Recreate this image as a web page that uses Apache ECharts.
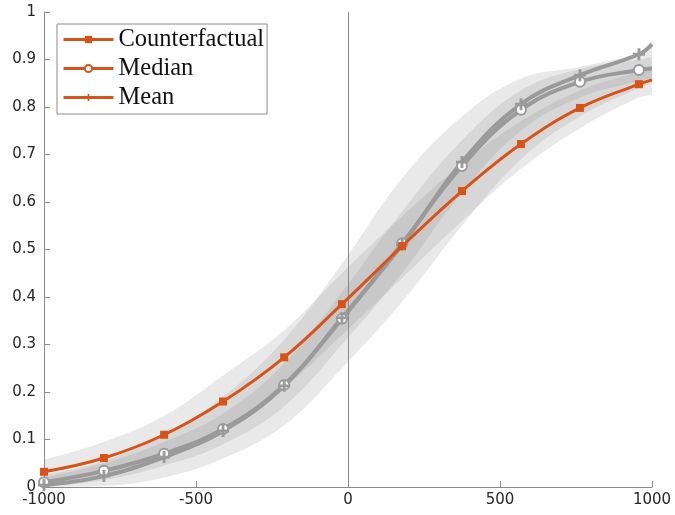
<!DOCTYPE html>
<html>
<head>
<meta charset="utf-8">
<script src="https://cdn.jsdelivr.net/npm/echarts@6/dist/echarts.min.js"></script>
<style>html,body{margin:0;padding:0;background:#fff}#c{width:675px;height:515px}</style>
</head>
<body>
<div id="c"></div>
<script>
// x positions of the sampled points (markers) plus the curve end
const xs = [-1000, -803, -605, -411, -210, -20, 178, 375, 569, 763, 957, 1000];
// series values
const counterfactual = [0.032, 0.061, 0.110, 0.180, 0.273, 0.385, 0.507, 0.623, 0.722, 0.798, 0.848, 0.857];
const median = [0.010, 0.034, 0.070, 0.122, 0.215, 0.354, 0.513, 0.676, 0.794, 0.853, 0.878, 0.881];
const mean = [0.004, 0.023, 0.063, 0.118, 0.213, 0.356, 0.510, 0.684, 0.806, 0.867, 0.911, 0.932];
// shaded bands (lower / upper)
const cfLo = [0.005, 0.025, 0.065, 0.125, 0.210, 0.320, 0.440, 0.560, 0.670, 0.755, 0.820, 0.825];
const cfHi = [0.058, 0.095, 0.150, 0.235, 0.330, 0.450, 0.570, 0.680, 0.770, 0.835, 0.875, 0.885];
const meanLo = [0.000, 0.002, 0.020, 0.060, 0.130, 0.250, 0.390, 0.550, 0.690, 0.780, 0.840, 0.850];
const meanHi = [0.025, 0.055, 0.110, 0.190, 0.310, 0.470, 0.650, 0.780, 0.860, 0.885, 0.915, 0.940];
const medLo = [0.000, 0.015, 0.045, 0.090, 0.170, 0.300, 0.450, 0.620, 0.750, 0.820, 0.855, 0.860];
const medHi = [0.020, 0.050, 0.095, 0.155, 0.260, 0.410, 0.580, 0.730, 0.835, 0.880, 0.900, 0.905];
// tick labels
const xTicks = [-1000, -500, 0, 500, 1000];
const yTicks = [0, 0.1, 0.2, 0.3, 0.4, 0.5, 0.6, 0.7, 0.8, 0.9, 1];

const ORANGE = '#D95319';
const GRAY = '#9a9a9a';
const plusPath = 'path://M-1.2,-5H1.2V-1.2H5V1.2H1.2V5H-1.2V1.2H-5V-1.2H-1.2Z';

function pts(arr) {
  return xs.map((x, i) => {
    const d = { value: [x, arr[i]] };
    if (i === xs.length - 1) d.symbol = 'none';
    return d;
  });
}
// band rows are [y, x] so the stacked dimension is the y value
function band(lo, hi, id) {
  return [
    { type: 'line', stack: id, stackStrategy: 'all', smooth: 0.4, symbol: 'none', silent: true,
      encode: { x: 1, y: 0 },
      lineStyle: { opacity: 0 }, data: xs.map((x, i) => [lo[i], x]), z: 1 },
    { type: 'line', stack: id, stackStrategy: 'all', smooth: 0.4, symbol: 'none', silent: true,
      encode: { x: 1, y: 0 },
      lineStyle: { opacity: 0 }, areaStyle: { color: 'rgba(140,140,140,0.19)', opacity: 1 },
      data: xs.map((x, i) => [hi[i] - lo[i], x]), z: 1 }
  ];
}

const chart = echarts.init(document.getElementById('c'), null, { renderer: 'canvas' });
chart.setOption({
  animation: false,
  backgroundColor: '#fff',
  grid: { left: 44, right: 23, top: 12, bottom: 28, containLabel: false },
  xAxis: {
    type: 'value', min: -1000, max: 1000, interval: 500,
    axisLine: { show: true, onZero: false, lineStyle: { color: '#8a8a8a', width: 1 } },
    axisTick: { show: true, inside: true, length: 6, lineStyle: { color: '#8a8a8a' } },
    splitLine: { show: false },
    axisLabel: { color: '#262626', fontSize: 15, fontFamily: 'DejaVu Sans', margin: 6,
      formatter: v => xTicks.includes(v) ? String(v) : '' }
  },
  yAxis: {
    type: 'value', min: 0, max: 1, interval: 0.1,
    axisLine: { show: true, onZero: false, lineStyle: { color: '#8a8a8a', width: 1 } },
    axisTick: { show: true, inside: true, length: 6, lineStyle: { color: '#8a8a8a' } },
    splitLine: { show: false },
    axisLabel: { color: '#262626', fontSize: 15, fontFamily: 'DejaVu Sans', margin: 8,
      formatter: v => { const t = yTicks.find(y => Math.abs(y - v) < 1e-9); return t === undefined ? '' : String(t); } }
  },
  legend: {
    orient: 'vertical', left: 57, top: 24,
    backgroundColor: '#fff', borderColor: '#8a8a8a', borderWidth: 1,
    padding: [3, 3, 4, 5], itemGap: 4, itemWidth: 50, itemHeight: 9,
    textStyle: { fontFamily: 'Liberation Serif', fontSize: 24.5, color: '#111' },
    data: [
      { name: 'Counterfactual', itemStyle: { color: ORANGE, borderColor: ORANGE }, lineStyle: { color: ORANGE, width: 3 } },
      { name: 'Median', itemStyle: { color: ORANGE, borderColor: ORANGE }, lineStyle: { color: ORANGE, width: 3 } },
      { name: 'Mean', itemStyle: { color: ORANGE, borderColor: ORANGE }, lineStyle: { color: ORANGE, width: 3 } }
    ]
  },
  series: [
    ...band(cfLo, cfHi, 'bcf'),
    ...band(meanLo, meanHi, 'bmean'),
    ...band(medLo, medHi, 'bmed'),
    {
      name: 'Median', type: 'line', smooth: 0.4, z: 4,
      symbol: 'emptyCircle', symbolSize: 10,
      itemStyle: { color: GRAY, borderColor: GRAY, borderWidth: 2.5 },
      lineStyle: { color: GRAY, width: 4 },
      data: pts(median),
      markLine: {
        silent: true, symbol: 'none', label: { show: false },
        lineStyle: { color: '#8a8a8a', width: 1, type: 'solid' },
        data: [{ xAxis: 0 }]
      }
    },
    {
      name: 'Mean', type: 'line', smooth: 0.4, z: 4,
      symbol: plusPath, symbolSize: 12,
      itemStyle: { color: GRAY },
      lineStyle: { color: GRAY, width: 4 },
      data: pts(mean)
    },
    {
      name: 'Counterfactual', type: 'line', smooth: 0.4, z: 5,
      symbol: 'rect', symbolSize: 8,
      itemStyle: { color: ORANGE },
      lineStyle: { color: ORANGE, width: 3 },
      data: pts(counterfactual)
    }
  ]
});
</script>
</body>
</html>
